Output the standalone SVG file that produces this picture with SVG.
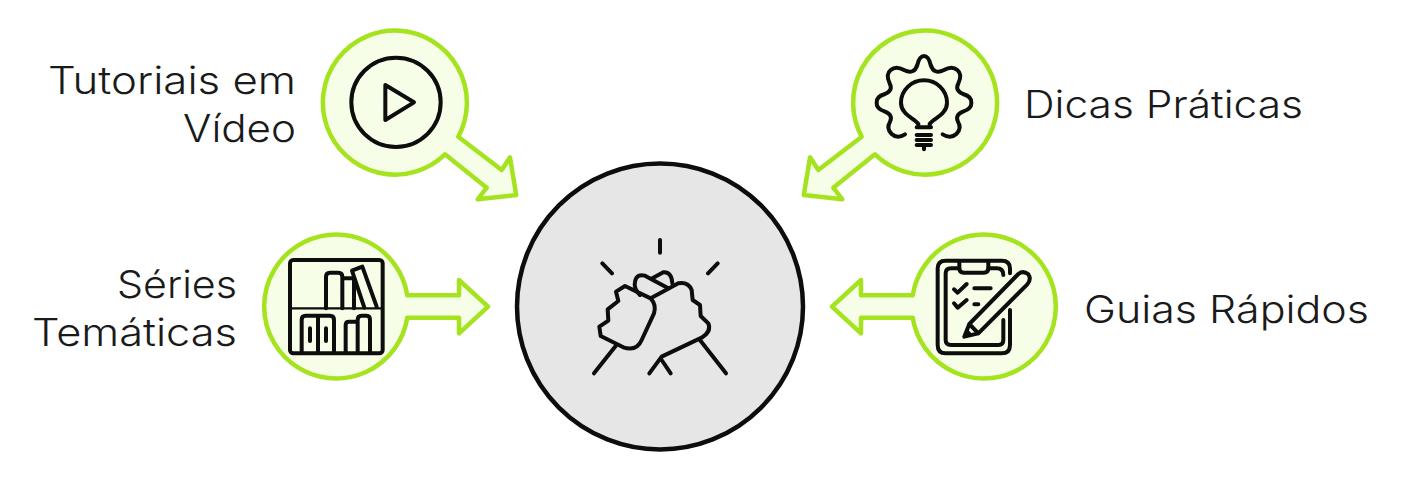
<svg xmlns="http://www.w3.org/2000/svg" width="1416" height="477" viewBox="0 0 1416 477">
<style>
.shape{fill:#f6fee8;stroke:#a4e31e;stroke-width:4.5;stroke-linejoin:round}
.hub{fill:#e6e6e6;stroke:#0d0d0d;stroke-width:4.5}
.ic{fill:none;stroke:#0d0d0d;stroke-width:12;stroke-linecap:round;stroke-linejoin:round}
.thin{stroke-width:7}
.tip{fill:#0d0d0d}
text{font-family:"Inter","Noto Sans","Liberation Sans",sans-serif;font-size:38px;fill:#1a1a1a;font-weight:300}
</style>
<rect width="1416" height="477" fill="#ffffff"/>
<g id="connectors">
<path class="shape" d="M458.3,136.7 L501.7,170 L510,157.3 L516.2,195 L477.7,199.3 L486.7,187.7 L445,154.3 A72,72 0 1 1 458.3,136.7 Z"/>
<path class="shape" d="M861.7,136.7 L818.3,170 L810,157.3 L803.8,195 L842.3,199.3 L833.3,187.7 L875,154.3 A72,72 0 1 0 861.7,136.7 Z"/>
<path class="shape" d="M407.3,295.3 H459 V280 L488,306.7 L459,333.3 V317.7 H407.3 A72,72 0 1 1 407.3,295.3 Z"/>
<path class="shape" d="M912.7,295.3 H861 V280 L832,306.7 L861,333.3 V317.7 H912.7 A72,72 0 1 0 912.7,295.3 Z"/>
</g>
<g id="node-hub">
<circle class="hub" cx="660" cy="306.5" r="143"/>
<g transform="translate(580,230) scale(.33333)">
<path class="ic" d="M240,30V68M67,100L96,130M413,100L384,130"/>
<path class="ic" d="M135,168L108,185L115,213L83,238L85,272L58,290L62,318L130,352Q170,365 185,330L222,250Q230,225 212,205ZM107,348L42,430"/>
<path class="ic" d="M180,195Q160,175 165,155Q170,130 195,137L213,147L265,175M213,147L250,127Q275,125 277,160"/>
<path class="ic" d="M215,203L295,160Q325,155 335,180L338,210L360,225L362,258L385,280Q395,305 365,323L245,380L208,430M358,328L438,430M245,390L272,430"/>
</g>
</g>
<g id="node-video">
<g transform="translate(310,20) scale(.33333)">
<circle class="ic" cx="258" cy="247" r="134"/>
<path class="ic" d="M226,195L312,247L226,300Z"/>
</g>
<text x="48" y="94" textLength="248" lengthAdjust="spacingAndGlyphs">Tutoriais em</text>
<text x="183" y="142" textLength="113" lengthAdjust="spacingAndGlyphs">Vídeo</text>
</g>
<g id="node-dicas">
<g transform="translate(790,20) scale(.33333)">
<path class="ic" d="M345,343Q322,358 305,342Q288,325 300,305Q310,285 285,275Q258,265 260,248Q258,230 285,222Q310,212 299,190Q286,163 302,150Q318,136 342,150Q372,165 382,135Q388,108 402,108Q416,108 422,135Q432,165 462,150Q486,136 502,150Q518,163 505,190Q494,212 519,222Q546,230 544,248Q546,265 519,275Q494,285 504,305Q516,325 499,342Q482,358 458,343"/>
<path class="ic" d="M385,322V312C375,295 333,285 333,248A69,67 0 1 1 471,248C471,285 429,295 419,312V322M380,322H423M380,345H423M380,360H423M380,375H423M402,375V388"/>
</g>
<text x="1024" y="118" textLength="279" lengthAdjust="spacingAndGlyphs">Dicas Práticas</text>
</g>
<g id="node-series">
<g transform="translate(255,225) scale(.33333)">
<rect class="ic" x="105" y="105" width="278" height="280" rx="10"/>
<path class="ic thin" d="M105,250H383"/>
<path class="ic" d="M213,250V155Q213,143 225,143H250Q262,143 262,155V250M262,160H297V250M328,248L291,137L322,125L365,245"/>
<path class="ic" d="M140,380V285Q140,272 152,272H225Q237,272 237,285V380M189,272V380M165,310V348M213,310V348M272,380V300Q272,290 282,290H308M308,380V285Q308,272 320,272H335Q345,272 345,285V380"/>
</g>
<text x="117" y="298" textLength="120" lengthAdjust="spacingAndGlyphs">Séries</text>
<text x="32" y="346" textLength="205" lengthAdjust="spacingAndGlyphs">Temáticas</text>
</g>
<g id="node-guias">
<g transform="translate(825,225) scale(.33333)">
<path class="ic" d="M555,145V130Q555,107 530,107H362Q338,107 338,130V360Q338,385 362,385H530Q555,385 555,360V255"/>
<path class="ic" d="M535,285V345Q535,360 520,360H378Q362,360 362,345V145Q362,130 378,130H403M490,130H515Q535,130 535,150"/>
<path class="ic" d="M403,110V130Q403,143 416,143H477Q490,143 490,130V110"/>
<path class="ic" d="M387,193L398,203L425,177M387,235L398,248L425,225M448,190H497M448,238H460"/>
<path class="ic" d="M418,335L433,297L580,147Q595,135 610,148Q620,162 607,178L460,325ZM433,297L460,325"/>
<path class="tip" d="M418,335L427,312L441,326Z"/>
</g>
<text x="1084" y="323" textLength="285" lengthAdjust="spacingAndGlyphs">Guias Rápidos</text>
</g>
</svg>
